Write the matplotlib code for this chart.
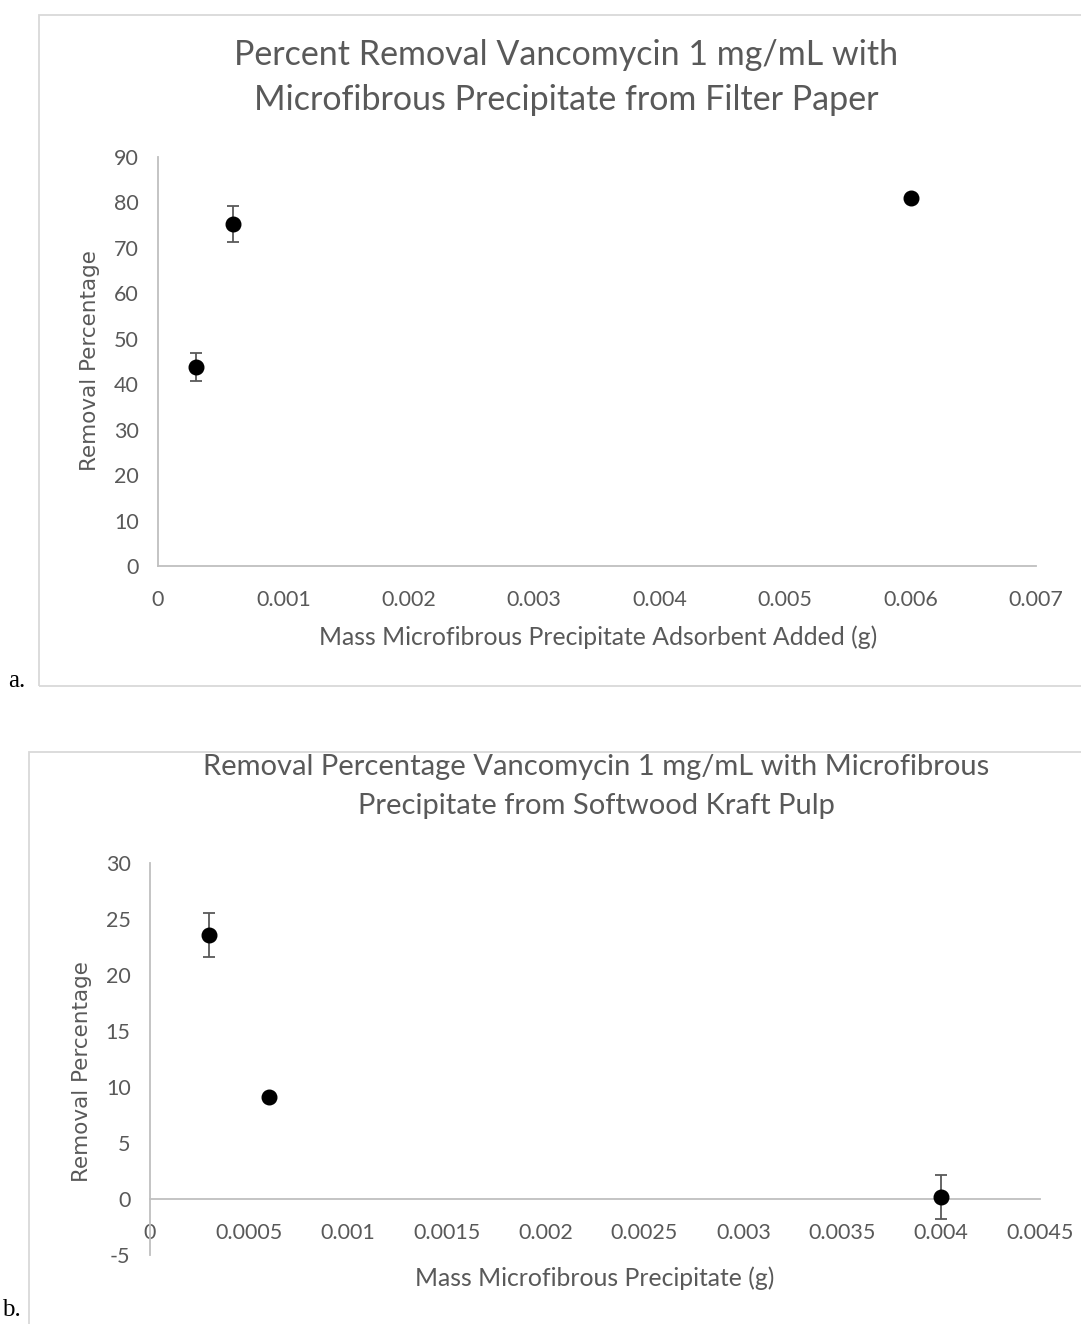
import matplotlib
matplotlib.use("Agg")
import matplotlib.pyplot as plt
from matplotlib.patches import Rectangle

plt.rcParams["axes.unicode_minus"] = False

# Panel a: filter paper precipitate
mass_a = [0.0003, 0.0006, 0.006]
removal_a = [43.8, 75.2, 81.0]
err_a = [3.1, 4.0, 0.0]
xticks_a = [0, 0.001, 0.002, 0.003, 0.004, 0.005, 0.006, 0.007]
xticklabels_a = ["0", "0.001", "0.002", "0.003", "0.004", "0.005", "0.006", "0.007"]
yticks_a = [0, 10, 20, 30, 40, 50, 60, 70, 80, 90]

# Panel b: softwood kraft pulp precipitate
mass_b = [0.0003, 0.0006, 0.004]
removal_b = [23.6, 9.1, 0.15]
err_b = [1.95, 0.0, 1.95]
xticks_b = [0, 0.0005, 0.001, 0.0015, 0.002, 0.0025, 0.003, 0.0035, 0.004, 0.0045]
xticklabels_b = ["0", "0.0005", "0.001", "0.0015", "0.002", "0.0025", "0.003", "0.0035", "0.004", "0.0045"]
yticks_b = [-5, 0, 5, 10, 15, 20, 25, 30]

TEXT = "#595959"
AXIS = "#bfbfbf"
BOX = "#d9d9d9"
FONT = "Lato"

fig = plt.figure(figsize=(10.81, 13.24), dpi=100)
W, H = 1081, 1324


def fx(px):
    return px / W


def fy(py):
    return 1 - py / H


# chart frames
fig.patches.append(Rectangle((fx(39), fy(686)), 1.2, fy(15) - fy(686),
                             transform=fig.transFigure, fill=False,
                             edgecolor=BOX, linewidth=1.3))
fig.patches.append(Rectangle((fx(29), fy(1340)), 1.2, fy(752) - fy(1340),
                             transform=fig.transFigure, fill=False,
                             edgecolor=BOX, linewidth=1.3))


def style_axes(ax, xpad):
    for s in ["top", "right"]:
        ax.spines[s].set_visible(False)
    for s in ["left", "bottom"]:
        ax.spines[s].set_color(AXIS)
        ax.spines[s].set_linewidth(1.3)
    ax.tick_params(length=0, labelcolor=TEXT, labelsize=15.5)
    ax.tick_params(axis="x", pad=xpad)
    ax.tick_params(axis="y", pad=14)
    for lab in ax.get_xticklabels() + ax.get_yticklabels():
        lab.set_family(FONT)


# ---- panel a ----
ax1 = fig.add_axes([fx(158), fy(566), fx(1036) - fx(158), fy(157) - fy(566)])
ax1.errorbar(mass_a, removal_a, yerr=err_a, fmt="o", color="black",
             markersize=10.5, ecolor=TEXT, elinewidth=1.3, capsize=4.5,
             capthick=1.3, zorder=3)
ax1.set_xlim(0, 0.007)
ax1.set_ylim(0, 90)
ax1.set_xticks(xticks_a)
ax1.set_xticklabels(xticklabels_a)
ax1.set_yticks(yticks_a)
style_axes(ax1, 17)
fig.text(fx(90), fy(361), "Removal Percentage", rotation=90, ha="center",
         va="center", fontsize=15.5, color=TEXT, family="DejaVu Sans")
fig.text(fx(598), fy(637), "Mass Microfibrous Precipitate Adsorbent Added (g)",
         ha="center", va="center", fontsize=17.8, color=TEXT, family=FONT)
fig.text(fx(566), fy(55), "Percent Removal Vancomycin 1 mg/mL with",
         ha="center", va="center", fontsize=24.5, color=TEXT, family=FONT)
fig.text(fx(566), fy(100), "Microfibrous Precipitate from Filter Paper",
         ha="center", va="center", fontsize=24.5, color=TEXT, family=FONT)
fig.text(fx(8), fy(681), "a.", ha="left", va="center", fontsize=18,
         family="Liberation Serif", color="black")

# ---- panel b ----
ax2 = fig.add_axes([fx(150), fy(1255), fx(1040) - fx(150), fy(863) - fy(1255)])
ax2.errorbar(mass_b, removal_b, yerr=err_b, fmt="o", color="black",
             markersize=10.5, ecolor=TEXT, elinewidth=1.3, capsize=4.5,
             capthick=1.3, zorder=3)
ax2.set_xlim(0, 0.0045)
ax2.set_ylim(-5, 30)
ax2.set_xticks(xticks_b)
ax2.set_xticklabels(xticklabels_b)
ax2.set_yticks(yticks_b)
ax2.spines["bottom"].set_position(("data", 0))
style_axes(ax2, 17)
fig.text(fx(82), fy(1072), "Removal Percentage", rotation=90, ha="center",
         va="center", fontsize=15.5, color=TEXT, family="DejaVu Sans")
fig.text(fx(595), fy(1278), "Mass Microfibrous Precipitate (g)",
         ha="center", va="center", fontsize=17.8, color=TEXT, family=FONT)
fig.text(fx(596), fy(767), "Removal Percentage Vancomycin 1 mg/mL with Microfibrous",
         ha="center", va="center", fontsize=21, color=TEXT, family=FONT)
fig.text(fx(596), fy(806), "Precipitate from Softwood Kraft Pulp",
         ha="center", va="center", fontsize=21, color=TEXT, family=FONT)
fig.text(fx(2), fy(1321), "b.", ha="left", va="bottom", fontsize=18,
         family="Liberation Serif", color="black")

fig.savefig("out.png", dpi=100)
